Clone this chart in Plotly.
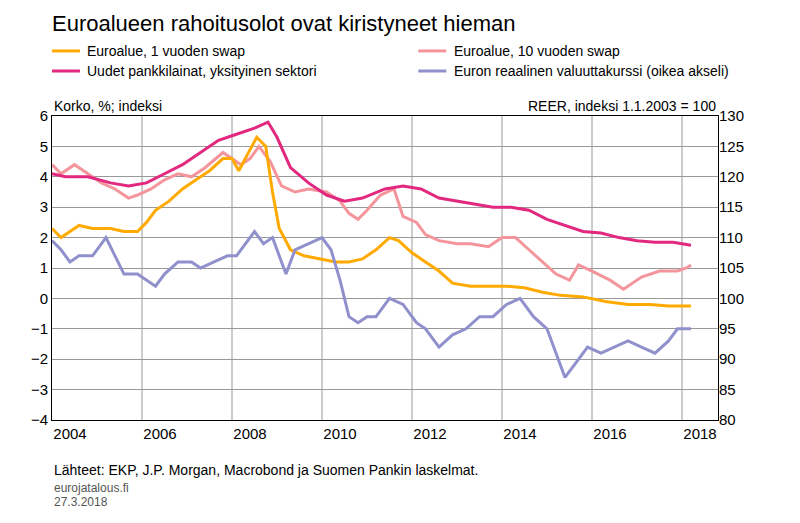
import plotly.graph_objects as go

y1_x = [2004.0,2004.2,2004.4,2004.6,2004.9,2005.3,2005.6,2005.9,2006.1,2006.3,2006.6,2006.9,2007.2,2007.5,2007.8,2008.0,2008.15,2008.3,2008.55,2008.75,2008.9,2009.05,2009.3,2009.6,2010.0,2010.3,2010.6,2010.9,2011.2,2011.5,2011.7,2012.0,2012.3,2012.6,2012.9,2013.3,2013.7,2014.1,2014.5,2014.9,2015.3,2015.8,2016.3,2016.8,2017.3,2017.7,2018.2]
y1_v = [2.3,2.0,2.2,2.4,2.3,2.3,2.2,2.2,2.5,2.9,3.2,3.6,3.9,4.2,4.6,4.6,4.2,4.6,5.3,5.0,3.5,2.3,1.6,1.4,1.3,1.2,1.2,1.3,1.6,2.0,1.9,1.5,1.2,0.9,0.5,0.4,0.4,0.4,0.35,0.2,0.1,0.05,-0.1,-0.2,-0.2,-0.25,-0.25]

y10_x = [2004.0,2004.2,2004.5,2004.8,2005.1,2005.4,2005.7,2005.9,2006.2,2006.5,2006.8,2007.1,2007.4,2007.8,2008.0,2008.2,2008.4,2008.6,2008.85,2009.1,2009.4,2009.7,2010.1,2010.4,2010.6,2010.8,2011.0,2011.3,2011.6,2011.8,2012.1,2012.3,2012.6,2013.0,2013.3,2013.7,2014.0,2014.3,2014.6,2014.9,2015.2,2015.5,2015.7,2016.0,2016.4,2016.7,2017.1,2017.5,2017.9,2018.1,2018.2]
y10_v = [4.4,4.1,4.4,4.1,3.8,3.6,3.3,3.4,3.6,3.9,4.1,4.0,4.3,4.8,4.6,4.4,4.6,5.0,4.5,3.7,3.5,3.6,3.5,3.2,2.8,2.6,2.9,3.4,3.6,2.7,2.5,2.1,1.9,1.8,1.8,1.7,2.0,2.0,1.6,1.2,0.8,0.6,1.1,0.9,0.6,0.3,0.7,0.9,0.9,1.0,1.1]

loan_x = [2004.0,2004.3,2004.8,2005.3,2005.7,2006.1,2006.5,2006.9,2007.3,2007.7,2008.1,2008.5,2008.8,2009.0,2009.3,2009.7,2010.1,2010.5,2010.9,2011.4,2011.8,2012.2,2012.6,2013.0,2013.4,2013.8,2014.2,2014.6,2015.0,2015.4,2015.8,2016.2,2016.6,2017.0,2017.4,2017.8,2018.2]
loan_v = [4.1,4.0,4.0,3.8,3.7,3.8,4.1,4.4,4.8,5.2,5.4,5.6,5.8,5.3,4.3,3.8,3.4,3.2,3.3,3.6,3.7,3.6,3.3,3.2,3.1,3.0,3.0,2.9,2.6,2.4,2.2,2.15,2.0,1.9,1.85,1.85,1.75]

reer_x = [2004.0,2004.2,2004.4,2004.6,2004.9,2005.2,2005.4,2005.6,2005.9,2006.1,2006.3,2006.5,2006.8,2007.1,2007.3,2007.6,2007.9,2008.1,2008.3,2008.5,2008.7,2008.9,2009.1,2009.2,2009.4,2009.7,2010.0,2010.2,2010.4,2010.6,2010.8,2011.0,2011.2,2011.5,2011.8,2012.1,2012.3,2012.6,2012.9,2013.2,2013.5,2013.8,2014.1,2014.4,2014.7,2015.0,2015.2,2015.4,2015.6,2015.9,2016.2,2016.5,2016.8,2017.1,2017.4,2017.7,2017.9,2018.2]
reer_v = [109.5,108,106,107,107,110,107,104,104,103,102,104,106,106,105,106,107,107,109,111,109,110,106,104,108,109,110,108,103,97,96,97,97,100,99,96,95,92,94,95,97,97,99,100,97,95,91,87,89,92,91,92,93,92,91,93,95,95]

year_labels = ["2004", "2006", "2008", "2010", "2012", "2014", "2016", "2018"]
year_pos = [2004.4, 2006.4, 2008.4, 2010.4, 2012.4, 2014.4, 2016.4, 2018.4]
grid_years = [2006, 2008, 2010, 2012, 2014, 2016, 2018]

names = ["Euroalue, 1 vuoden swap", "Euroalue, 10 vuoden swap",
         "Uudet pankkilainat, yksityinen sektori", "Euron reaalinen valuuttakurssi (oikea akseli)"]
colors = ["#FFAA00", "#F4959C", "#E2287F", "#8F90CC"]

fig = go.Figure()
for g in grid_years:
    fig.add_vline(x=g, line=dict(color="#999999", width=1), layer="below")
fig.add_trace(go.Scatter(x=reer_x, y=reer_v, name=names[3], mode="lines", yaxis="y2", line=dict(color=colors[3], width=3)))
fig.add_trace(go.Scatter(x=y10_x, y=y10_v, name=names[1], mode="lines", line=dict(color=colors[1], width=3)))
fig.add_trace(go.Scatter(x=y1_x, y=y1_v, name=names[0], mode="lines", line=dict(color=colors[0], width=3)))
fig.add_trace(go.Scatter(x=loan_x, y=loan_v, name=names[2], mode="lines", line=dict(color=colors[2], width=3)))

fig.update_layout(
    width=800, height=523, plot_bgcolor="white", paper_bgcolor="white",
    font=dict(family="Liberation Sans, Arial", size=15, color="black"),
    margin=dict(l=44, r=90, t=108, b=111, autoexpand=False),
    title=dict(text="Euroalueen rahoitusolot ovat kiristyneet hieman", x=0.055, y=0.985,
               xanchor="left", yanchor="top", font=dict(size=22)),
    xaxis=dict(range=[2004.0, 2018.8], tickvals=year_pos, ticktext=year_labels, showgrid=False,
               showline=True, linecolor="black", mirror=True, ticks="", zeroline=False),
    yaxis=dict(range=[-4, 6], dtick=1, showgrid=True, gridcolor="#999999", zeroline=False,
               showline=True, linecolor="black", mirror=True, ticks=""),
    yaxis2=dict(range=[80, 130], dtick=5, overlaying="y", side="right", showgrid=False,
                zeroline=False, ticks=""),
    showlegend=False,
)
pos = [(0.0, 1.214), (0.55, 1.214), (0.0, 1.148), (0.55, 1.148)]
for (lx, ly), nm, c in zip(pos, names, colors):
    fig.add_shape(type="line", xref="paper", yref="paper", x0=lx, x1=lx + 0.042, y0=ly, y1=ly,
                  line=dict(color=c, width=3))
    fig.add_annotation(text=nm, x=lx + 0.05, y=ly, xref="paper", yref="paper", xanchor="left",
                       yanchor="middle", showarrow=False, font=dict(size=14))
fig.add_annotation(text="Korko, %; indeksi", x=0, y=1.0, xref="paper", yref="paper",
                   xanchor="left", yanchor="bottom", showarrow=False, font=dict(size=14))
fig.add_annotation(text="REER, indeksi 1.1.2003 = 100", x=1.0, y=1.0, xref="paper", yref="paper",
                   xanchor="right", yanchor="bottom", showarrow=False, font=dict(size=14))
fig.add_annotation(text="Lähteet: EKP, J.P. Morgan, Macrobond ja Suomen Pankin laskelmat.", x=0, y=-0.165,
                   xref="paper", yref="paper", xanchor="left", yanchor="middle", showarrow=False, font=dict(size=14))
fig.add_annotation(text="eurojatalous.fi", x=0, y=-0.225, xref="paper", yref="paper", xanchor="left",
                   yanchor="middle", showarrow=False, font=dict(size=12, color="#555"))
fig.add_annotation(text="27.3.2018", x=0, y=-0.27, xref="paper", yref="paper", xanchor="left",
                   yanchor="middle", showarrow=False, font=dict(size=12, color="#555"))
fig.write_html("out.html")
